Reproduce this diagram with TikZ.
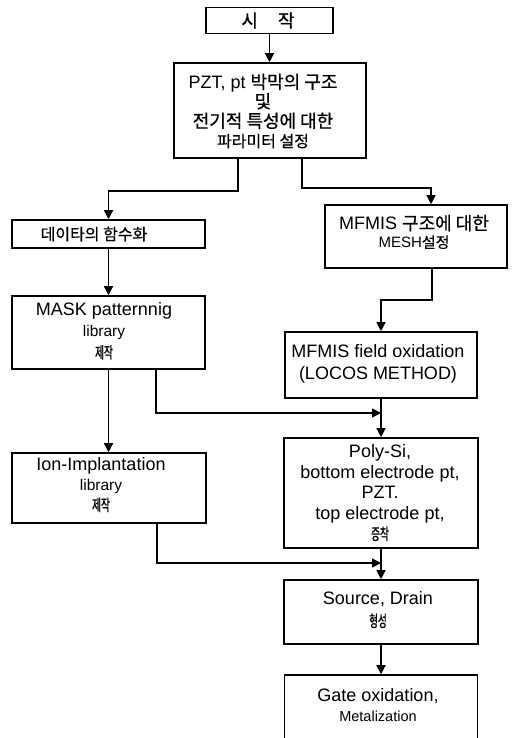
\documentclass[tikz,border=0pt]{standalone}
\usepackage{fontspec}
\setmainfont{Liberation Sans}
\newfontfamily\krfont[FakeBold=0.6]{Noto Sans CJK KR}
\newfontfamily\krnarrow[FakeStretch=0.6,FakeBold=0.8]{Noto Sans CJK KR}
\usetikzlibrary{arrows.meta}
\newcommand{\krsmall}[1]{{\krnarrow\fontsize{16}{16}\selectfont #1}}
\newcommand{\krmid}[1]{{\krfont\fontsize{18}{18}\selectfont #1}}
\newcommand{\latsmall}[1]{{\fontsize{15.5}{18}\selectfont #1}}
\begin{document}
\begin{tikzpicture}[x=1pt,y=-1pt,
  boxst/.style={draw, line width=1.6pt, inner sep=0pt},
  arr/.style={line width=1.4pt, -{Triangle[length=9pt,width=9pt]}},
  txt/.style={align=center, inner sep=0pt, font=\fontsize{18}{20}\selectfont}]
\useasboundingbox (0,0) rectangle (527,738);
\clip (0,0) rectangle (527,738);

% boxes
\node[boxst, minimum width=127pt, minimum height=26pt] (start) at (269.5,20.5) {};
\node[boxst, minimum width=192pt, minimum height=95pt] (param) at (270,110.5) {};
\node[boxst, minimum width=193pt, minimum height=28pt] (data) at (108.5,234) {};
\node[boxst, minimum width=182pt, minimum height=63pt] (mesh) at (416,236.5) {};
\node[boxst, minimum width=193pt, minimum height=73pt] (mask) at (108.5,332.5) {};
\node[boxst, minimum width=192pt, minimum height=66pt] (fox) at (381,365) {};
\node[boxst, minimum width=194pt, minimum height=70pt] (ion) at (109,488) {};
\node[boxst, minimum width=194pt, minimum height=110pt] (poly) at (381,493) {};
\node[boxst, minimum width=194pt, minimum height=64pt] (src) at (381,612) {};
\node[boxst, minimum width=193pt, minimum height=90pt] (gate) at (381,720) {};

% texts
\node[txt] (startT) at (268,20.5) {\krmid{시\hspace{20pt}작}};
\node[txt, font=\fontsize{18}{19.5}\selectfont] (paramT) at (263,111)
  {PZT, pt \krmid{박막의 구조}\\ \krmid{및}\\ \krmid{전기적 특성에 대한}\\
   {\krfont\fontsize{16}{16}\selectfont 파라미터 설정}};
\node[txt] (dataT) at (94,234) {{\krfont\fontsize{16}{17}\selectfont 데이타의 함수화}};
\node[txt, font=\fontsize{18}{18}\selectfont] (meshT) at (414,232)
  {MFMIS \krmid{구조에 대한}\\ {\fontsize{15}{15}\selectfont MESH{\krfont 설정}}};
\node[txt, font=\fontsize{18}{21.5}\selectfont] (maskT) at (104,331)
  {MASK patternnig\\ \latsmall{library}\\ \krsmall{제작}};
\node[txt, font=\fontsize{18}{22}\selectfont] (foxT) at (378,364)
  {MFMIS field oxidation\\ (LOCOS METHOD)};
\node[txt, font=\fontsize{18}{20.5}\selectfont] (polyT) at (380,493)
  {Poly-Si,\\ bottom electrode pt,\\ PZT.\\ top electrode pt,\\ \krsmall{증착}};
\node[txt, font=\fontsize{18}{20}\selectfont] (ionT) at (101,485)
  {Ion-Implantation\\ \latsmall{library}\\ \krsmall{제작}};
\node[txt, font=\fontsize{18}{22}\selectfont] (srcT) at (378,610)
  {Source, Drain\\ \krsmall{형성}};
\node[txt, font=\fontsize{18}{20}\selectfont] (gateT) at (378,705)
  {Gate oxidation,\\ {\fontsize{14.5}{16}\selectfont Metalization}};

% junction points on the right column
\coordinate (j1) at (381,413);
\coordinate (j2) at (381,563);

% connectors
\draw[arr] (start.south) -- (start.south |- param.north);
\draw[arr] ([xshift=-32pt]param.south) -- ++(0,32) -| (data.north);
\draw[arr] ([xshift=32pt]param.south) -- ++(0,29) -| ([xshift=15pt]mesh.north);
\draw[arr] (data.south) -- (mask.north);
\draw[arr] ([xshift=16pt]mesh.south) -- ++(0,31) -| (fox.north);
\draw[arr] (mask.south) -- (mask.south |- ion.north);
\draw[arr] ([xshift=47.5pt]mask.south) |- (j1);
\draw[arr] (fox.south) -- (poly.north);
\draw[arr] ([xshift=48pt]ion.south) |- (j2);
\draw[arr] (poly.south) -- (src.north);
\draw[arr] (src.south) -- (gate.north);
\end{tikzpicture}
\end{document}
